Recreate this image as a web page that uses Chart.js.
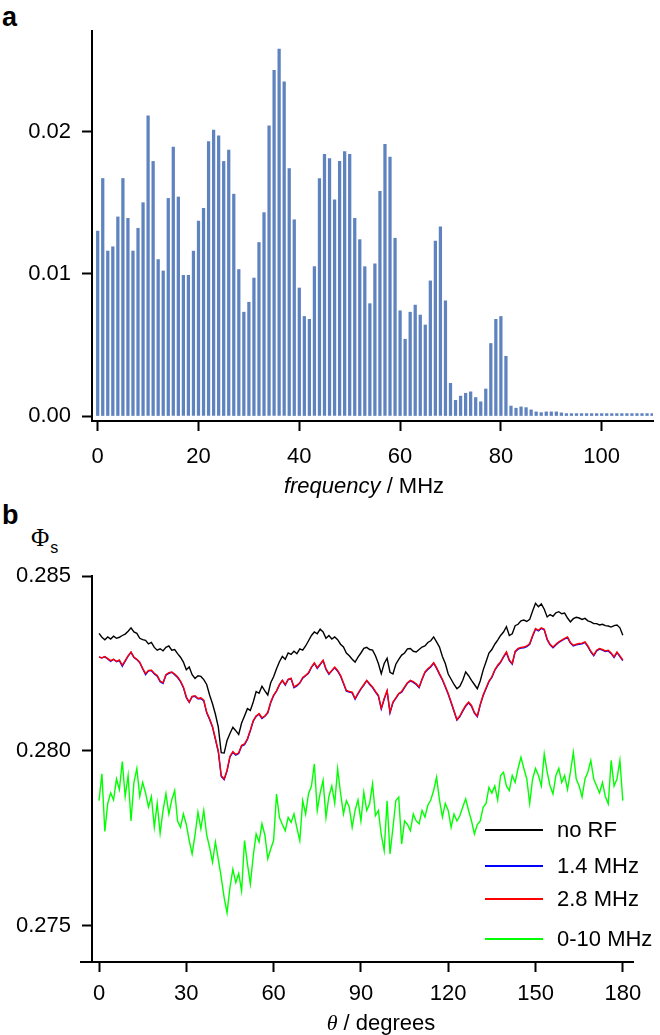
<!DOCTYPE html>
<html>
<head>
<meta charset="utf-8">
<script src="https://cdn.jsdelivr.net/npm/chart.js@4.4.1/dist/chart.umd.min.js"></script>
<style>
  body { margin: 0; width: 660px; height: 1035px; position: relative; background: #fff; font-family: "Liberation Sans", Arial, sans-serif; color: #000; }
  .box { position: absolute; left: 0; width: 660px; }
  .lbl { position: absolute; white-space: nowrap; line-height: 1; }
  .panel { font-weight: bold; font-size: 27px; }
  .axt { font-size: 22px; transform: translateX(-50%); }
</style>
</head>
<body>
<div class="lbl panel" style="left:2px; top:4px;">a</div>
<div class="lbl panel" style="left:2px; top:502px;">b</div>
<div class="lbl" style="left:31px; top:525px; font-size:25px;"><span style="font-family:'Liberation Serif',serif;">Φ</span><span style="font-size:16px; position:relative; top:7px; left:1px;">s</span></div>

<div class="box" style="top:0; height:510px;"><canvas id="chartA" width="660" height="510"></canvas></div>
<div class="box" style="top:510px; height:525px;"><canvas id="chartB" width="660" height="525"></canvas></div>

<div class="lbl axt" style="left:364px; top:475px;"><i>frequency</i> / MHz</div>
<div class="lbl axt" style="left:381px; top:1012px;"><i style="font-family:'Liberation Serif',serif;">θ</i> / degrees</div>

<script>
// panel a: spectrum
const freqMHz = Array.from({ length: 111 }, (_, i) => i);
const spectrum = [
  0.0130, 0.0167, 0.0116, 0.0119, 0.0140, 0.0167, 0.0139, 0.0116, 0.0132, 0.0150,
  0.0211, 0.0179, 0.0110, 0.0102, 0.0153, 0.0189, 0.0154, 0.0099, 0.0099, 0.0116,
  0.0137, 0.0146, 0.0193, 0.0201, 0.0197, 0.0179, 0.0187, 0.0156, 0.0103, 0.0073,
  0.0080, 0.0097, 0.0122, 0.0143, 0.0204, 0.0243, 0.0258, 0.0235, 0.0174, 0.0138,
  0.0090, 0.0070, 0.0068, 0.0105, 0.0167, 0.0184, 0.0181, 0.0152, 0.0179, 0.0186,
  0.0184, 0.0139, 0.0124, 0.0105, 0.0079, 0.0107, 0.0158, 0.0191, 0.0182, 0.0125,
  0.0074, 0.0054, 0.0073, 0.0078, 0.0071, 0.0064, 0.0095, 0.0123, 0.0133, 0.0081,
  0.0023, 0.0011, 0.0014, 0.0016, 0.0017, 0.0013, 0.0010, 0.0019, 0.0051, 0.0068,
  0.0070, 0.0042, 0.0007, 0.00055, 0.00064, 0.00059, 0.00043, 0.00029, 0.00024, 0.00029,
  0.00029, 0.00029, 0.00022, 0.00017, 0.00017, 0.00017, 0.00017, 0.00017, 0.00017, 0.00017,
  0.00017, 0.00017, 0.00017, 0.00017, 0.00017, 0.00017, 0.00017, 0.00017, 0.00017, 0.00017,
  0.00017
];
const freqTicks = [0, 20, 40, 60, 80, 100];
const ampTicks = [0, 0.01, 0.02];

// panel b: Phi_s vs angle
const theta = Array.from({ length: 181 }, (_, i) => i);
const phiNoRF = [
  .28336,.28325,.28318,.28326,.28320,.28328,.28322,.28325,.28330,.28334,
  .28342,.28352,.28340,.28336,.28322,.28318,.28316,.28306,.28310,.28296,
  .28288,.28292,.28286,.28296,.28300,.28288,.28290,.28278,.28268,.28254,
  .28232,.28240,.28218,.28207,.28215,.28213,.28204,.28190,.28160,.28135,
  .28105,.28068,.27995,.27994,.28030,.28050,.28068,.28058,.28047,.28080,
  .28100,.28121,.28116,.28140,.28170,.28165,.28185,.28172,.28160,.28195,
  .28212,.28235,.28255,.28270,.28262,.28280,.28276,.28285,.28278,.28292,
  .28288,.28300,.28315,.28330,.28340,.28335,.28348,.28340,.28322,.28330,
  .28320,.28326,.28318,.28305,.28297,.28280,.28272,.28262,.28254,.28268,
  .28280,.28293,.28296,.28290,.28288,.28272,.28250,.28221,.28250,.28265,
  .28225,.28220,.28248,.28262,.28274,.28280,.28292,.28293,.28285,.28283,
  .28290,.28297,.28300,.28310,.28315,.28326,.28312,.28297,.28270,.28250,
  .28220,.28205,.28190,.28178,.28185,.28202,.28226,.28215,.28202,.28190,
  .28178,.28200,.28231,.28255,.28280,.28290,.28305,.28317,.28330,.28340,
  .28355,.28330,.28335,.28358,.28362,.28372,.28374,.28370,.28376,.28400,
  .28422,.28412,.28420,.28405,.28383,.28390,.28385,.28395,.28398,.28392,
  .28394,.28380,.28369,.28378,.28382,.28380,.28376,.28379,.28372,.28369,
  .28364,.28364,.28360,.28362,.28358,.28357,.28354,.28358,.28360,.28352,
  .28331
];
const phi14 = [
  .28268,.28266,.28269,.28263,.28256,.28262,.28255,.28258,.28242,.28257,
  .28271,.28282,.28267,.28261,.28252,.28235,.28218,.28229,.28230,.28220,
  .28214,.28198,.28193,.28217,.28222,.28225,.28218,.28210,.28198,.28181,
  .28152,.28139,.28155,.28156,.28149,.28150,.28143,.28109,.28090,.28068,
  .28033,.27997,.27927,.27918,.27943,.27983,.27996,.27988,.27993,.28014,
  .28018,.28033,.28058,.28085,.28099,.28105,.28093,.28099,.28109,.28138,
  .28158,.28171,.28189,.28201,.28188,.28204,.28206,.28181,.28186,.28194,
  .28208,.28215,.28222,.28239,.28250,.28236,.28247,.28258,.28233,.28219,
  .28229,.28238,.28228,.28214,.28193,.28171,.28168,.28166,.28148,.28163,
  .28177,.28188,.28201,.28190,.28181,.28168,.28157,.28120,.28148,.28171,
  .28109,.28138,.28150,.28163,.28168,.28181,.28194,.28200,.28196,.28190,
  .28181,.28204,.28224,.28233,.28240,.28251,.28236,.28219,.28203,.28183,
  .28162,.28138,.28113,.28088,.28098,.28114,.28128,.28138,.28128,.28108,
  .28098,.28131,.28158,.28178,.28198,.28210,.28230,.28243,.28253,.28268,
  .28281,.28258,.28248,.28283,.28291,.28294,.28295,.28298,.28305,.28328,
  .28348,.28343,.28350,.28346,.28318,.28303,.28295,.28303,.28310,.28315,
  .28320,.28324,.28308,.28300,.28303,.28305,.28306,.28310,.28298,.28283,
  .28272,.28286,.28291,.28288,.28284,.28286,.28278,.28267,.28281,.28270,
  .28258
];
const phi28 = [
  .28269,.28266,.28270,.28264,.28258,.28262,.28256,.28260,.28245,.28258,
  .28272,.28283,.28268,.28262,.28254,.28236,.28221,.28230,.28231,.28222,
  .28216,.28200,.28195,.28218,.28224,.28226,.28220,.28212,.28200,.28183,
  .28155,.28140,.28156,.28158,.28150,.28152,.28145,.28111,.28092,.28070,
  .28035,.28000,.27930,.27920,.27945,.27985,.27998,.27990,.27995,.28016,
  .28020,.28035,.28060,.28087,.28100,.28107,.28095,.28100,.28111,.28140,
  .28160,.28172,.28190,.28202,.28190,.28205,.28208,.28183,.28188,.28195,
  .28210,.28216,.28224,.28240,.28252,.28238,.28248,.28259,.28235,.28221,
  .28230,.28240,.28230,.28216,.28195,.28173,.28170,.28168,.28150,.28165,
  .28178,.28190,.28202,.28192,.28183,.28170,.28159,.28122,.28150,.28173,
  .28111,.28140,.28152,.28164,.28170,.28183,.28195,.28202,.28198,.28192,
  .28183,.28205,.28226,.28235,.28242,.28252,.28238,.28221,.28205,.28185,
  .28164,.28140,.28115,.28090,.28100,.28116,.28130,.28140,.28130,.28110,
  .28100,.28133,.28160,.28180,.28200,.28212,.28232,.28245,.28255,.28270,
  .28283,.28260,.28250,.28285,.28293,.28296,.28297,.28300,.28307,.28330,
  .28350,.28345,.28352,.28348,.28320,.28305,.28297,.28305,.28312,.28317,
  .28322,.28326,.28310,.28302,.28305,.28307,.28308,.28312,.28300,.28285,
  .28274,.28288,.28293,.28290,.28286,.28288,.28280,.28269,.28283,.28272,
  .28260
];
const phi010 = [
  .27858,.27935,.27770,.27850,.27880,.27860,.27920,.27890,.27970,.27870,
  .27930,.27800,.27910,.27950,.27870,.27910,.27880,.27840,.27870,.27782,
  .27850,.27765,.27830,.27878,.27820,.27860,.27887,.27800,.27782,.27820,
  .27790,.27744,.27706,.27760,.27825,.27778,.27830,.27760,.27725,.27682,
  .27740,.27690,.27639,.27581,.27538,.27610,.27662,.27624,.27650,.27600,
  .27744,.27678,.27620,.27700,.27763,.27740,.27792,.27760,.27692,.27720,
  .27744,.27877,.27810,.27790,.27772,.27810,.27796,.27820,.27780,.27744,
  .27858,.27820,.27878,.27900,.27963,.27830,.27880,.27916,.27810,.27870,
  .27900,.27850,.27949,.27880,.27820,.27858,.27840,.27782,.27830,.27860,
  .27800,.27882,.27830,.27850,.27906,.27815,.27830,.27760,.27715,.27858,
  .27706,.27780,.27858,.27868,.27734,.27800,.27790,.27772,.27820,.27800,
  .27792,.27830,.27811,.27845,.27860,.27887,.27925,.27860,.27811,.27850,
  .27830,.27782,.27820,.27800,.27815,.27840,.27863,.27830,.27800,.27763,
  .27790,.27800,.27839,.27850,.27896,.27880,.27900,.27860,.27930,.27939,
  .27900,.27887,.27930,.27910,.27950,.27982,.27950,.27920,.27850,.27920,
  .27950,.27930,.27900,.27992,.27940,.27900,.27877,.27930,.27950,.27910,
  .27930,.27890,.27940,.27996,.27920,.27900,.27868,.27920,.27940,.27973,
  .27920,.27900,.27880,.27910,.27870,.27849,.27973,.27900,.27920,.27973,
  .27858
];
const thetaTicks = [0, 30, 60, 90, 120, 150, 180];
const phiTicks = [0.275, 0.280, 0.285];
const seriesLabels = ['no RF', '1.4 MHz', '2.8 MHz', '0-10 MHz'];

const FONT = { family: '"Liberation Sans", Arial, sans-serif', size: 22 };

function axisBase(ticks, fmt, pad) {
  return {
    type: 'linear',
    offset: false,
    grid: { display: true, offset: false, drawOnChartArea: false, drawTicks: true, tickLength: 10, tickWidth: 2, tickColor: '#000' },
    border: { display: true, color: '#000', width: 2 },
    ticks: { color: '#000', font: FONT, padding: pad, autoSkip: false, maxRotation: 0, callback: fmt },
    afterBuildTicks: s => { s.ticks = ticks.map(v => ({ value: v })); }
  };
}

// chart a
const xA = axisBase(freqTicks, v => String(v), 13);
xA.min = -1.13; xA.max = 110.18;
xA.afterFit = s => { s.height = 89; };
const yA = axisBase(ampTicks, v => v.toFixed(2), 11);
yA.min = -0.00035; yA.max = 0.02707;
yA.afterFit = s => { s.width = 92; };

new Chart(document.getElementById('chartA'), {
  type: 'bar',
  data: {
    datasets: [{
      data: freqMHz.map((f, i) => ({ x: f, y: spectrum[i] })),
      backgroundColor: '#5f83bf',
      borderWidth: 0,
      barThickness: 2.6
    }]
  },
  options: {
    responsive: false,
    animation: false,
    layout: { padding: { left: 0, right: 7, top: 31, bottom: 0 } },
    plugins: { legend: { display: false }, tooltip: { enabled: false } },
    scales: { x: xA, y: yA }
  }
});

// chart b
const colors = ['#000000', '#0000ff', '#ff0000', '#00ff00'];
const seriesData = [phiNoRF, phi14, phi28, phi010];
const drawOrder = [2, 1, 0, 3];

const xB = axisBase(thetaTicks, v => String(v), 9);
xB.min = -2.41; xB.max = 183.5;
xB.afterFit = s => { s.height = 73; };
const yB = axisBase(phiTicks, v => v.toFixed(3), 11);
yB.min = 0.27397; yB.max = 0.285;
yB.afterFit = s => { s.width = 92; };

const legendAndAxis = {
  id: 'legendAndAxis',
  afterDraw(chart) {
    const ctx = chart.ctx;
    const area = chart.chartArea;
    ctx.save();
    // x axis runs a bit past the y axis, as in the original
    ctx.strokeStyle = '#000';
    ctx.lineWidth = 2;
    ctx.beginPath();
    ctx.moveTo(80, area.bottom);
    ctx.lineTo(area.left, area.bottom);
    ctx.stroke();
    // legend
    const rows = [320, 356, 389, 429];
    ctx.font = '22px "Liberation Sans", Arial, sans-serif';
    ctx.textBaseline = 'middle';
    chart.data.datasets.forEach((ds, i) => {
      ctx.strokeStyle = ds.borderColor;
      ctx.beginPath();
      ctx.moveTo(485, rows[i]);
      ctx.lineTo(543, rows[i]);
      ctx.stroke();
      ctx.fillStyle = '#000';
      ctx.fillText(ds.label, 557, rows[i] + 1);
    });
    ctx.restore();
  }
};

new Chart(document.getElementById('chartB'), {
  type: 'line',
  data: {
    datasets: seriesData.map((arr, i) => ({
      label: seriesLabels[i],
      data: theta.map((t, j) => ({ x: t, y: arr[j] })),
      borderColor: colors[i],
      borderWidth: 1.4,
      pointRadius: 0,
      tension: 0,
      fill: false,
      order: drawOrder[i]
    }))
  },
  options: {
    responsive: false,
    animation: false,
    layout: { padding: { left: 0, right: 27, top: 66, bottom: 0 } },
    plugins: { legend: { display: false }, tooltip: { enabled: false } },
    scales: { x: xB, y: yB }
  },
  plugins: [legendAndAxis]
});
</script>
</body>
</html>
